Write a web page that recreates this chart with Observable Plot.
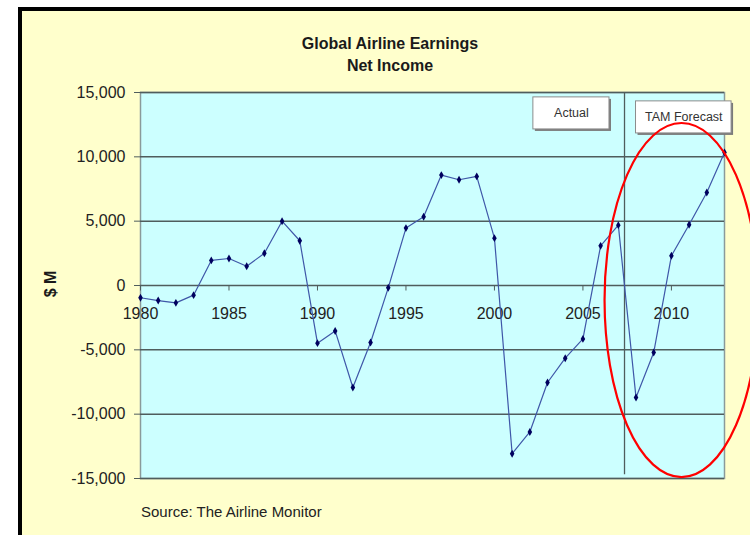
<!DOCTYPE html>
<html>
<head>
<meta charset="utf-8">
<script src="https://cdn.jsdelivr.net/npm/d3@7"></script>
<script src="https://cdn.jsdelivr.net/npm/@observablehq/plot@0.6"></script>
<style>
  html, body { margin: 0; padding: 0; background: #ffffff; }
  #chart svg { display: block; }
</style>
</head>
<body>
<div id="chart"></div>
<script>
// Global airline net income, $ millions (actuals through 2007, forecast after)
const years = [1980, 1981, 1982, 1983, 1984, 1985, 1986, 1987, 1988, 1989,
               1990, 1991, 1992, 1993, 1994, 1995, 1996, 1997, 1998, 1999,
               2000, 2001, 2002, 2003, 2004, 2005, 2006, 2007, 2008, 2009,
               2010, 2011, 2012, 2013];
const netIncome = [-950, -1170, -1350, -750, 1950, 2100, 1500, 2500, 5000, 3480,
                   -4480, -3530, -7930, -4430, -180, 4460, 5340, 8580, 8220, 8480,
                   3680, -13070, -11380, -7540, -5650, -4150, 3080, 4690, -8710, -5210,
                   2310, 4720, 7230, 10340];

const yTicks = [-15000, -10000, -5000, 0, 5000, 10000, 15000];
const xTicks = [1980, 1985, 1990, 1995, 2000, 2005, 2010];

const titleLines = ["Global Airline Earnings", "Net Income"];
const yLabel = "$ M";
const source = "Source: The Airline Monitor";

// boundary between reported years and the forecast
const forecastStart = 2007.35;

// labelled boxes over the two periods
const annotations = [
  {label: "Actual",       x1: 2002.2, x2: 2006.5, y1: 14620, y2: 12130},
  {label: "TAM Forecast", x1: 2008.0, x2: 2013.4, y1: 14310, y2: 11820}
];

// highlight ring round the forecast period
const ring = {cx: 2010.6, cy: -1170, rx: 4.35, ry: 13760};

const data = years.map((year, i) => ({year, income: netIncome[i]}));

const font = "Liberation Sans, Arial, Helvetica, sans-serif";
const gridColor = "#4f5d5d";

// thousands separators with a plain hyphen for negatives
const formatValue = d3.formatLocale({decimal: ".", thousands: ",", grouping: [3], currency: ["$", ""], minus: "-"}).format(",");

// short downward tick on the zero line
const tickMark = {draw(ctx) { ctx.moveTo(0, 0); ctx.lineTo(0, 5); }};

const plot = Plot.plot({
  width: 750,
  height: 535,
  marginLeft: 140,
  marginRight: 26,
  marginTop: 92,
  marginBottom: 57,
  style: {background: "transparent", fontFamily: font, color: "#222", overflow: "hidden"},
  x: {domain: [1980, 2013], axis: null},
  y: {domain: [-15000, 15000]},
  marks: [
    Plot.frame({fill: "#ccffff", stroke: "#8a9a9a", strokeWidth: 1.5}),
    Plot.ruleY(yTicks, {stroke: gridColor, strokeWidth: 1.5}),
    Plot.axisY({ticks: yTicks, tickFormat: formatValue, tickSize: 6, tickPadding: 9,
                fontSize: 16, label: null, stroke: gridColor}),
    Plot.dot(xTicks, {x: d => d, y: () => 0, symbol: tickMark, stroke: gridColor, fill: "none", strokeWidth: 1}),
    Plot.text(xTicks, {x: d => d, y: () => 0, text: d => String(d), dy: 28, fontSize: 16, fill: "#222"}),
    Plot.ruleX([forecastStart], {y1: 15000, y2: -14700, stroke: gridColor, strokeWidth: 1.3}),
    Plot.rect(annotations, {x1: "x1", x2: "x2", y1: "y1", y2: "y2", fill: "#7a7a7a", dx: 2, dy: 2}),
    Plot.rect(annotations, {x1: "x1", x2: "x2", y1: "y1", y2: "y2", fill: "#ffffff", stroke: "#8c8c8c"}),
    Plot.text(annotations, {x: d => (d.x1 + d.x2) / 2, y: d => (d.y1 + d.y2) / 2, text: "label",
                            fontSize: 12.5, fill: "#333"}),
    Plot.line(data, {x: "year", y: "income", stroke: "#3f57a8", strokeWidth: 1.2}),
    Plot.dot(data, {x: "year", y: "income", symbol: "diamond", r: 2.4, fill: "#00005e"})
  ]
});

const svg = d3.select(plot);
svg.style("background", "#ffffff");

// pale panel with a black border behind the chart
svg.insert("rect", ":first-child")
  .attr("x", 20).attr("y", 9)
  .attr("width", 800).attr("height", 600)
  .attr("fill", "#ffffcc")
  .attr("stroke", "#000").attr("stroke-width", 4);

const sx = plot.scale("x"), sy = plot.scale("y");
svg.append("ellipse")
  .attr("cx", sx.apply(ring.cx))
  .attr("cy", sy.apply(ring.cy))
  .attr("rx", sx.apply(ring.cx + ring.rx) - sx.apply(ring.cx))
  .attr("ry", sy.apply(ring.cy) - sy.apply(ring.cy + ring.ry))
  .attr("fill", "none").attr("stroke", "#ff0000").attr("stroke-width", 2.2);

const titleGroup = svg.append("g")
  .attr("font-family", font).attr("font-weight", "bold").attr("font-size", 16)
  .attr("fill", "#1a1a1a").attr("text-anchor", "middle");
titleLines.forEach((t, i) => {
  titleGroup.append("text").attr("x", 390).attr("y", 43 + i * 22).attr("dy", "0.35em").text(t);
});

svg.append("text")
  .attr("transform", "translate(50,284) rotate(-90)")
  .attr("text-anchor", "middle").attr("dy", "0.35em")
  .attr("font-family", font).attr("font-weight", "bold").attr("font-size", 16)
  .attr("fill", "#1a1a1a").text(yLabel);

svg.append("text")
  .attr("x", 141).attr("y", 512).attr("dy", "0.35em")
  .attr("text-anchor", "start")
  .attr("font-family", font).attr("font-size", 15)
  .attr("fill", "#222").text(source);

document.getElementById("chart").append(plot);
</script>
</body>
</html>
